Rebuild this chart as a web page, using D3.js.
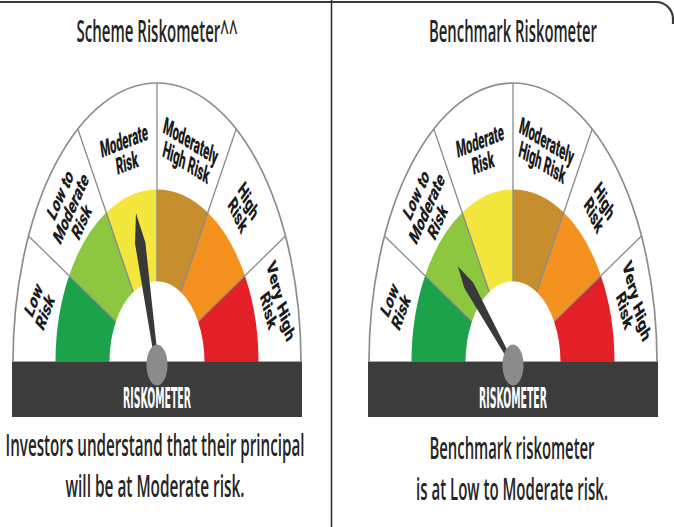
<!DOCTYPE html>
<html><head><meta charset="utf-8">
<script src="https://cdn.jsdelivr.net/npm/d3@7"></script>
<style>html,body{margin:0;padding:0;background:#fff;} svg{display:block;}</style>
</head><body>
<svg id="c" width="674" height="527"></svg>
<script>
// ---------------- data ----------------
const riskCategories = ["Low Risk","Low to Moderate Risk","Moderate Risk","Moderately High Risk","High Risk","Very High Risk"];
const categoryLabelLines = [["Low","Risk"],["Low to","Moderate","Risk"],["Moderate","Risk"],["Moderately","High Risk"],["High","Risk"],["Very High","Risk"]];
const categoryColors = ["#1ca24b","#8dc63f","#f3e63c","#c68e2c","#f5911f","#e31f27"];
const meterTitles = ["Scheme Riskometer^^","Benchmark Riskometer"];
const needleValues = [2.55, 1.52];           // position on the 0..6 category scale
const captionLines = [["Investors understand that their principal","will be at Moderate risk."],
                      ["Benchmark riskometer","is at Low to Moderate risk."]];
const barLabel = "RISKOMETER";

// ---------------- layout / style ----------------
const LY = {
  centers:[157,513], baseY:362,
  outerRx:144, outerRy:279,
  colorInner:47.5, colorOuter:101.5, k:1.7,
  labelRx:122, labelRy:218, labelRot:[-58,-53,-13,20,52,66], labelFs:14, labelSquish:0.8,
  needleRx:70, needleRy:156, needleHalf:5.2, needleBaseHalf:1.6, needleWideAt:0.8,
  barHalf:145, barY0:362, barY1:417,
  hubRx:10.5, hubRy:20.5, hubDy:3,
  titleY:42, titleLen:[161,168],
  captionY:[[456,497],[459,500]], captionLen:[[299,179],[165,192]], captionCx:[155,512]
};
const labelFont = "Roboto,'DejaVu Sans Condensed',sans-serif";
const textFont = "'Open Sans','Noto Sans',sans-serif";

const svg = d3.select("#c");
svg.append("rect").attr("width",674).attr("height",527).attr("fill","#fff");

// frame
svg.append("path").attr("d","M0,2 H656 A17,17 0 0 1 673,19 V24")
  .attr("fill","none").attr("stroke","#3a3a3a").attr("stroke-width",2.2);
svg.append("line").attr("x1",331.5).attr("x2",331.5).attr("y1",0).attr("y2",527)
  .attr("stroke","#333").attr("stroke-width",1.6);

const angle = d3.scaleLinear().domain([0, riskCategories.length]).range([-Math.PI/2, Math.PI/2]);
const pie = d3.pie().value(()=>1).sort(null).startAngle(-Math.PI/2).endAngle(Math.PI/2);
const segs = pie(riskCategories);

function stretchedText(parent, x, y, str, o){
  const g = parent.append("g").attr("transform",`translate(${x},${y}) scale(1,${o.sy})`);
  const t = g.append("text").attr("text-anchor","middle")
    .attr("font-family",o.family).attr("font-size",o.fs).attr("font-weight",o.weight||"normal")
    .attr("fill",o.fill||"#222").text(str);
  if(o.len){ t.attr("textLength",o.len).attr("lengthAdjust","spacingAndGlyphs"); }
  return t;
}

meterTitles.forEach((title, gi)=>{
  const cx = LY.centers[gi], cy = LY.baseY;
  const g = svg.append("g");

  // outer white half ellipse
  g.append("path")
    .attr("transform",`translate(${cx},${cy}) scale(1,${LY.outerRy/LY.outerRx})`)
    .attr("d", d3.arc()({innerRadius:0, outerRadius:LY.outerRx, startAngle:-Math.PI/2, endAngle:Math.PI/2}))
    .attr("fill","#fff").attr("stroke","#8d8d8d").attr("stroke-width",1.7)
    .attr("vector-effect","non-scaling-stroke");

  // coloured band
  const arc = d3.arc().innerRadius(LY.colorInner).outerRadius(LY.colorOuter);
  g.append("g").attr("transform",`translate(${cx},${cy}) scale(1,${LY.k})`)
    .selectAll("path").data(segs).join("path")
    .attr("d", arc).attr("fill",(d,i)=>categoryColors[i]);

  // dividers
  d3.range(1, riskCategories.length).forEach(i=>{
    const a = angle(i);
    let dx = Math.sin(a), dy = -LY.k*Math.cos(a);
    const n = Math.hypot(dx,dy); dx/=n; dy/=n;
    const tIn = 1/Math.sqrt((dx/LY.colorInner)**2 + (dy/(LY.colorInner*LY.k))**2);
    const tOut = 1/Math.sqrt((dx/LY.outerRx)**2 + (dy/LY.outerRy)**2);
    g.append("line")
      .attr("x1",cx+dx*tIn).attr("y1",cy+dy*tIn)
      .attr("x2",cx+dx*tOut).attr("y2",cy+dy*tOut)
      .attr("stroke","#8a8a8a").attr("stroke-width",1.3);
  });

  // category labels
  segs.forEach((d,i)=>{
    const a = (d.startAngle + d.endAngle)/2;
    const x = cx + LY.labelRx*Math.sin(a), y = cy - LY.labelRy*Math.cos(a);
    const lg = g.append("g").attr("transform",
      `translate(${x},${y}) scale(1,${LY.k}) rotate(${LY.labelRot[i]}) scale(${LY.labelSquish},1)`);
    const lines = categoryLabelLines[i];
    const lh = LY.labelFs*0.95;
    lines.forEach((ln,j)=>{
      lg.append("text").attr("text-anchor","middle")
        .attr("x",0).attr("y",(j-(lines.length-1)/2)*lh + LY.labelFs*0.36)
        .attr("font-family",labelFont).attr("font-weight",900).attr("font-size",LY.labelFs)
        .attr("fill","#1b1b1b").text(ln);
    });
  });

  // bar
  g.append("rect").attr("x",cx-LY.barHalf).attr("y",LY.barY0)
    .attr("width",LY.barHalf*2).attr("height",LY.barY1-LY.barY0).attr("fill","#3c3c3c");

  // needle
  {
    const a = angle(needleValues[gi]);
    let dx = Math.sin(a), dy = -LY.k*Math.cos(a);
    const n = Math.hypot(dx,dy); dx/=n; dy/=n;
    const t = 1/Math.sqrt((dx/LY.needleRx)**2 + (dy/LY.needleRy)**2);
    const px = -dy, py = dx;
    const bx = cx, by = cy + LY.hubDy;
    const tip = [cx+dx*t, cy+dy*t];
    const wx = cx+dx*t*LY.needleWideAt, wy = cy+dy*t*LY.needleWideAt;
    const pts = [tip,
      [wx+px*LY.needleHalf, wy+py*LY.needleHalf],
      [bx+px*LY.needleBaseHalf, by+py*LY.needleBaseHalf],
      [bx-px*LY.needleBaseHalf, by-py*LY.needleBaseHalf],
      [wx-px*LY.needleHalf, wy-py*LY.needleHalf]];
    g.append("path").attr("d", d3.line()(pts)+"Z").attr("fill","#393939");
  }
  // hub
  g.append("ellipse").attr("cx",cx).attr("cy",cy+LY.hubDy).attr("rx",LY.hubRx).attr("ry",LY.hubRy)
    .attr("fill","#8b8b8b");

  // bar label
  stretchedText(g, cx, 408, barLabel, {sy:2.0, fs:14, family:"'DejaVu Sans Condensed',sans-serif", weight:"bold", fill:"#fff", len:68});

  // title
  stretchedText(g, cx, LY.titleY, title, {sy:1.72, fs:18, family:textFont, weight:600, fill:"#252525", len:LY.titleLen[gi]});

  // caption
  captionLines[gi].forEach((ln,j)=>{
    stretchedText(g, LY.captionCx[gi], LY.captionY[gi][j], ln, {sy:1.72, fs:18, family:textFont, weight:600, fill:"#252525", len:LY.captionLen[gi][j]});
  });
});
</script>
</body></html>
